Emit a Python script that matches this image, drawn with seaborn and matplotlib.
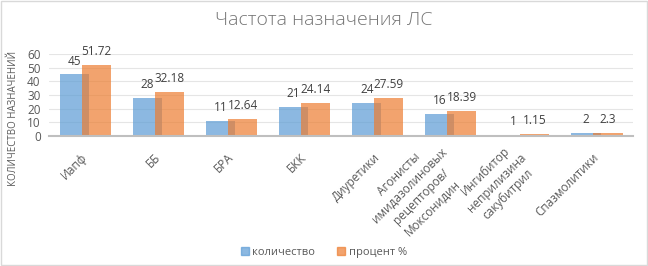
import seaborn as sns
import matplotlib.pyplot as plt
import matplotlib.patches as mpatches
import pandas as pd

# --- data ---
categories = [
    "Иапф",
    "ББ",
    "БРА",
    "БКК",
    "Диуретики",
    "Агонисты\nимидазолиновых\nрецепторов/\nМоксонидин",
    "Ингибитор\nнеприлизина\nсакубитрил",
    "Спазмолитики",
]
counts = [45, 28, 11, 21, 24, 16, 1, 2]
percents = [51.72, 32.18, 12.64, 24.14, 27.59, 18.39, 1.15, 2.3]
series_names = ["количество", "процент %"]

df = pd.DataFrame({
    "cat": categories * 2,
    "value": counts + percents,
    "series": [series_names[0]] * len(categories) + [series_names[1]] * len(categories),
})

sns.set_theme(style="white")
plt.rcParams["font.family"] = ["Open Sans", "DejaVu Sans"]

colors = ["#5B9BD5", "#ED7D31"]
text_gray = "#595959"

fig = plt.figure(figsize=(6.48, 2.66), dpi=100)
ax = fig.add_axes([0.0756, 0.489, 0.902, 0.308])

sns.barplot(data=df, x="cat", y="value", hue="series", palette=colors,
            width=0.8, alpha=0.7, ax=ax, legend=False, saturation=1,
            linewidth=0)

# pull the two bars of each group together so they overlap like in Excel
shift = 0.05
for i, cont in enumerate(ax.containers):
    for p in cont:
        p.set_x(p.get_x() + (shift if i == 0 else -shift))
    ax.bar_label(cont, fmt="{:g}", padding=5, fontsize=8.5, color="#404040")

ax.set_xlim(-0.5, len(categories) - 0.5)
ax.set_ylim(0, 60)
ax.set_yticks(range(0, 61, 10))
ax.yaxis.grid(True, color="#e5e5e5", linewidth=0.8)
ax.set_axisbelow(True)
for s in ["top", "right", "left"]:
    ax.spines[s].set_visible(False)
ax.spines["bottom"].set_color("#bfbfbf")
ax.spines["bottom"].set_linewidth(1.5)

ax.set_xlabel("")
ax.set_ylabel("")
ax.tick_params(axis="y", labelsize=8.5, colors=text_gray, length=0, pad=6)
ax.tick_params(axis="x", labelsize=8.5, colors=text_gray, length=0, pad=14)
plt.setp(ax.get_xticklabels(), rotation=45, ha="right", va="center",
         rotation_mode="anchor", multialignment="center", linespacing=1.3)

fig.text(0.021, 0.555, "КОЛИЧЕСТВО НАЗНАЧЕНИЙ", rotation=90, ha="center",
         va="center", fontsize=7, color=text_gray)
fig.text(0.5, 0.925, "Частота назначения ЛС", ha="center", va="center",
         fontsize=14, color="#757575", fontweight="light")

handles = [mpatches.Patch(color=c, alpha=0.7) for c in colors]
fig.legend(handles, series_names, loc="center", bbox_to_anchor=(0.5, 0.052),
           ncol=2, frameon=False, fontsize=8, handlelength=0.7, handleheight=0.7,
           handletextpad=0.3, columnspacing=2.0, labelcolor=text_gray)

# light frame round the chart area
fig.patches.append(mpatches.Rectangle((0.002, 0.004), 0.996, 0.992, transform=fig.transFigure,
                                      fill=False, edgecolor="#d9d9d9", linewidth=1))

fig.savefig("out.png", dpi=100)
